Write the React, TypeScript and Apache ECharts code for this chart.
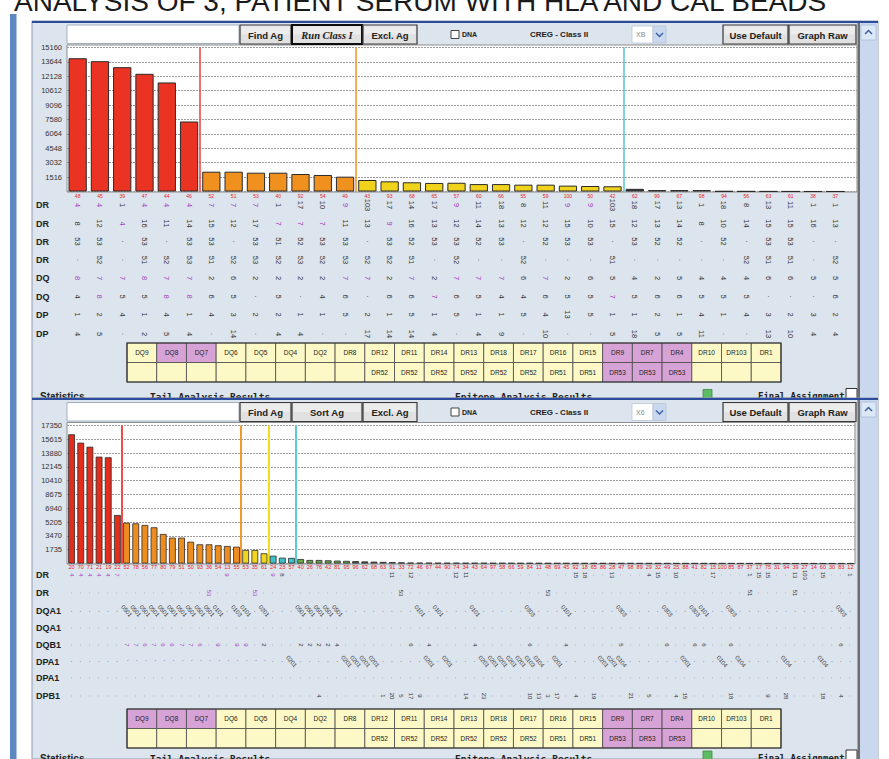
import React, { useEffect, useRef } from 'react';
import * as echarts from 'echarts';

// ---------------- data ----------------
const TITLE = 'ANALYSIS OF 3, PATIENT SERUM WITH HLA AND CAL BEADS';

const topBeads = ['48','45','39','47','44','46','52','51','53','40','92','54','49','43','93','68','65','57','60','66','55','59','100','50','42','62','99','67','98','94','56','63','61','38','37'];
const topValues = [14030,13720,13090,12390,11480,7370,2085,2085,1980,1980,1840,1740,1560,1210,1070,970,900,920,780,780,720,720,620,580,550,280,150,150,150,30,20,15,10,5,5];
const topCuts = [6, 13, 25];
const topYMax = 15160;
const topYStep = 1516;
const topRowNames = ['DR','DR','DR','DR','DQ','DQ','DP','DP'];
const topDR1 = ['4*','4*','1','4*','4*','4*','7*','7*','7*','1','17','10','9*','103','17','14','17','9*','11','18','8','11','9*','9*','103','18','17','13','1','18','8','13','11','1','1'];
const topDR2 = ['8','12','4*','16','11','14','15','12','17','7*','7*','7*','11','13','9*','16','13','12','14','13','12','12','15','10','15','12','13','14','8','10','14','15','15','16','13'];
const topDR3 = ['53','53','·','53','·','53','53','·','53','51','52','53','53','·','53','52','53','53','52','53','·','52','53','53','·','53','52','52','·','52','·','53','53','·','·'];
const topDR4 = ['·','52','·','51','52','53','51','52','53','52','53','52','53','52','52','51','·','52','·','·','52','·','·','·','51','·','·','·','·','·','52','51','51','·','52'];
const topDQ1 = ['8*','7*','7*','8*','7*','7*','2','6','2','2','2','2','7*','7*','2','7*','2','7*','7*','7*','6','7*','2','6','5','4','2','5','4','4','4','6','6','5','5'];
const topDQ2 = ['4','8*','5','5','8*','8*','6','5','·','5','·','4','6','·','6','6','7*','6','5','4','4','6','5','5','7*','5','6','6','5','5','5','·','·','·','6'];
const topDP1 = ['1','2','4','1','4','1','4','3','2','2','1','1','5','2','1','5','1','5','1','1','5','4','13','5','1','1','2','1','4','1','4','3','2','3','2'];
const topDP2 = ['4','5','·','2','5','4','·','14','·','4','4','·','·','17','14','14','4','·','4','9','·','10','·','·','5','18','5','5','11','·','·','13','10','4','4'];

const bottomBeads = ['20','70','71','21','19','22','52','78','56','77','80','79','51','50','93','36','54','13','55','53','35','61','24','23','57','40','26','76','42','81','95','96','62','68','63','91','33','72','46','67','44','90',
  '74','34','43','64','97','58','66','59','84','11','48','69','45','92','18','65','86','28','47','98','89','29','32','49','25','88','41','82','15','100','85','87','37','17','75','31','94','39','27','14','60','30','83','12'];
const bottomValues = [16240,15190,14680,13430,13350,6100,
  5130,5050,4840,4550,3710,3250,3250,2740,2410,2410,2290,2200,2110,
  1700,1700,1280,
  980,730,700,
  560,440,440,400,360,330,
  300,260,230,200,170,140,
  110,100,95,90,85,80,78,75,72,70,68,65,62,60,58,55,52,50,48,46,44,42,40,38,36,34,32,30,28,27,26,25,24,23,22,21,20,19,18,17,16,15,14,13,12,11,10,9,8];
const bottomCuts = [6, 19, 22, 25];
const bottomYMax = 17350;
const bottomYStep = 1735;
const bottomRowNames = ['DR','DR','DQA1','DQA1','DQB1','DPA1','DPA1','DPB1'];
const bDR1: Record<number, string> = {0:'4*',1:'4*',2:'4*',3:'4*',4:'4*',5:'7*',17:'9*',22:'9*',23:'8',35:'11',37:'12',42:'12',43:'11',55:'15',56:'18',59:'13',63:'4',64:'15',66:'10',70:'17',74:'1',75:'15',76:'15',79:'13',80:'103',82:'15',85:'1'};
const bDR2: Record<number, string> = {15:'53*',20:'53*',36:'53',52:'53',74:'51',79:'51'};
const bDQA1a: Record<number, string> = {6:'0501',7:'0501',8:'0501',9:'0501',10:'0501',11:'0501',12:'0501',13:'0501',14:'0501',15:'0501',16:'0101',18:'0103',19:'0101',21:'0201',25:'0501',26:'0501',27:'0501',28:'0501',29:'0501',38:'0101',40:'0101',44:'0101',50:'0303',54:'0101',60:'0303',65:'0303',68:'0303',69:'0101',72:'0303',84:'0303'};
const bDQA1b: Record<number, string> = {};
const bDQB1: Record<number, string> = {6:'7*',7:'7*',8:'6*',9:'7*',10:'6*',11:'6*',12:'7*',13:'7*',14:'6*',16:'9*',18:'9*',19:'9*',21:'2',25:'2',26:'2',27:'2',28:'2',29:'4',37:'6',39:'4',44:'4',50:'6',54:'4',60:'5',65:'6',68:'6',69:'6',72:'6',84:'6'};
const bDPA1a: Record<number, string> = {6:"'*",7:"'*",8:"'*",9:"'*",10:"'*",11:"'*",12:"'*",13:"'*",14:"'*",15:"'*",16:"'*",17:"'*",18:"'*",19:"'*",20:"'*",21:"'*",
  24:'0201',30:'0201',31:'0201',32:'0201',33:'0201',39:'0201',41:'0201',45:'0201',46:'0201',47:'0201',48:'0201',49:'0201',50:'0103',51:'0104',53:'0201',58:'0201',59:'0201',60:'0104',67:'0201',71:'0104',73:'0104',78:'0104',82:'0104'};
const bDPA1b: Record<number, string> = {};
const bDPB1: Record<number, string> = {27:'4',34:'1',35:'20',36:'5',37:'17',38:'9',43:'14',45:'23',50:'10',51:'13',52:'3',53:'17',55:'4',57:'19',61:'21',63:'5',66:'4',67:'15',72:'18',76:'9',78:'28',82:'18',84:'4'};

const tableAntigens = ['DQ9','DQ8','DQ7','DQ6','DQ5','DQ4','DQ2','DR8','DR12','DR11','DR14','DR13','DR18','DR17','DR16','DR15','DR9','DR7','DR4','DR10','DR103','DR1'];
const tableAssoc = ['','','','','','','','','DR52','DR52','DR52','DR52','DR52','DR52','DR51','DR51','DR53','DR53','DR53','','',''];
const topMarked = ['DQ8','DQ7','DR9','DR7','DR4'];
const bottomMarked = ['DQ9','DQ8','DQ7','DR9','DR7','DR4'];

// ---------------- layout ----------------
const FONT = "'Liberation Sans', Arial, sans-serif";
const MONO = "'DejaVu Sans Mono', 'Liberation Mono', monospace";
const SERIF = "'Liberation Serif', 'Times New Roman', serif";
const PURPLE = '#a43fc2';

const TOP = { panelY: 21, panelH: 377, tbY: 25, plotL: 67, plotR: 857, plotTop: 45, gridTop: 47.5, zeroY: 191.5, barL: 66.5, barW: 780, labelY: 195.5,
  rowY: [205, 223.5, 241.5, 260, 278, 296.5, 314.5, 334], tableY: 343, statsY: 391.5 };
const BOT = { panelY: 398, panelH: 361, tbY: 402.5, plotL: 67, plotR: 855, plotTop: 422.5, gridTop: 425.5, zeroY: 563.5, barL: 67, barW: 788, labelY: 566.5,
  rowY: [575, 593, 611, 628, 645, 661.5, 678, 696], tableY: 709, statsY: 753 };

const expand = (m: Record<number, string>, n: number) => Array.from({ length: n }, (_, i) => (m[i] !== undefined ? m[i] : '·'));

const rect = (x: number, y: number, w: number, h: number, fill: string, stroke?: string, lw = 1): any => {
  const style: any = { fill };
  if (stroke) { style.stroke = stroke; style.lineWidth = lw; }
  return { type: 'rect', z: 0, silent: true, shape: { x, y, width: w, height: h }, style };
};
const text = (x: number, y: number, t: string, o: any = {}): any => ({
  type: 'text', z: 0, silent: true, x, y,
  style: {
    text: t, fill: o.fill ?? '#222', fontSize: o.size ?? 8, fontFamily: o.family ?? FONT,
    fontWeight: o.weight ?? 'normal', fontStyle: o.italic ? 'italic' : 'normal',
    align: o.align ?? 'left', textAlign: o.align ?? 'left',
    verticalAlign: o.va ?? 'middle', textVerticalAlign: o.va ?? 'middle',
  },
});
const chevron = (cx: number, cy: number, up: boolean, color: string): any => ({
  type: 'polyline', z: 0, silent: true,
  shape: { points: up ? [[cx - 3.5, cy + 2], [cx, cy - 1.5], [cx + 3.5, cy + 2]] : [[cx - 3.5, cy - 1.5], [cx, cy + 2], [cx + 3.5, cy - 1.5]] },
  style: { stroke: color, lineWidth: 1.5, fill: null },
});
const button = (x: number, y: number, w: number, h: number, label: string, o: any = {}): any[] => [
  rect(x, y, w, h, '#e1e1e1', o.strong ? '#0d0d0d' : '#3a3a3a', o.strong ? 2 : 1.2),
  rect(x + 1.5, y + 1.5, w - 3, (h - 3) / 2, '#ececec'),
  text(x + w / 2, y + h / 2 + 0.5, label, { align: 'center', weight: 'bold', size: o.size ?? 9.5, family: o.family ?? FONT, italic: o.italic }),
];

function panel(L: any, rowNames: string[], second: string, secondItalic: boolean, drop: string, marked: string[]): any[] {
  const g: any[] = [];
  g.push(rect(32, L.panelY, 846, L.panelH, '#dce4ee', '#8f9cad', 1));
  g.push(rect(32, L.panelY, 846, 2, '#2d4c9e'));
  // scrollbar
  g.push(rect(860, L.panelY + 2, 18, L.panelH - 2, '#c9d8ee'));
  g.push(rect(857.5, L.panelY + 2, 2.5, L.panelH - 2, '#6e6e6e'));
  g.push(rect(861, L.panelY + 4, 15, 15, '#dde8f7', '#a8bcd8', 0.8));
  g.push(chevron(868.5, L.panelY + 11, true, '#3d63a6'));
  // plot area
  g.push(rect(L.plotL, L.plotTop, L.plotR - L.plotL, L.zeroY + 0.5 - L.plotTop, '#ffffff', '#8d8d8d', 1));
  // toolbar
  const y = L.tbY, h = 19;
  g.push(rect(67, y, 172, h - 0.5, '#ffffff', '#a4afbd', 1));
  g.push(...button(240, y, 51, h, 'Find Ag'));
  g.push(...button(292, y, 70, h, second, secondItalic ? { strong: true, italic: true, family: SERIF, size: 10.5 } : {}));
  g.push(...button(363, y, 54, h, 'Excl. Ag'));
  g.push(rect(451, y + 5.5, 8, 8, '#ffffff', '#444', 1));
  g.push(text(462, y + 9.5, 'DNA', { size: 7, weight: 'bold' }));
  g.push(text(559, y + 9.5, 'CREG - Class II', { size: 8, weight: 'bold', align: 'center' }));
  g.push(rect(632, y + 1, 21, 17, '#ffffff', '#b9c5d6', 0.8));
  g.push(text(636, y + 9.5, drop, { size: 7, fill: '#8a8a8a' }));
  g.push(rect(653, y + 1, 13, 17, '#c9d7ef', '#b9c5d6', 0.8));
  g.push(chevron(659.5, y + 9.5, false, '#3d63a6'));
  g.push(...button(723, y, 65, h, 'Use Default'));
  g.push(...button(789, y, 67, h, 'Graph Raw'));
  // row names
  rowNames.forEach((n, i) => g.push(text(36, L.rowY[i], n, { size: 9, weight: 'bold', fill: '#222' })));
  // antigen table
  const x0 = 127, cw = (781 - 127) / tableAntigens.length, rh = 19.5;
  tableAntigens.forEach((a, i) => {
    const m = marked.indexOf(a) >= 0;
    const x = x0 + i * cw;
    g.push(rect(x, L.tableY, cw, rh, m ? '#d7a2d6' : '#fcf9c6', '#4a4a4a', 0.8));
    g.push(text(x + cw / 2, L.tableY + rh / 2, a, { size: 6.5, align: 'center', fill: '#222' }));
    const s = tableAssoc[i];
    g.push(rect(x, L.tableY + rh, cw, rh, m && s ? '#d7a2d6' : '#fcf9c6', '#4a4a4a', 0.8));
    if (s) g.push(text(x + cw / 2, L.tableY + rh * 1.5, s, { size: 6.5, align: 'center', fill: '#222' }));
  });
  g.push({ type: 'rect', z: 0, silent: true, shape: { x: x0, y: L.tableY, width: 781 - x0, height: rh * 2 }, style: { fill: null, stroke: '#333', lineWidth: 1.2 } });
  // statistics line (partly hidden below)
  const sy = L.statsY;
  g.push(text(40, sy, 'Statistics', { size: 10, weight: 'bold', va: 'top' }));
  g.push(text(150, sy, 'Tail Analysis Results', { size: 9.5, weight: 'bold', va: 'top', family: MONO }));
  g.push(text(455, sy, 'Epitope Analysis Results', { size: 9.5, weight: 'bold', va: 'top', family: MONO }));
  g.push(rect(703, sy - 2, 9, 9, '#5dbb63', '#3c8a44', 0.8));
  g.push(text(758, sy, 'Final Assignment', { size: 9, weight: 'bold', va: 'top', family: MONO }));
  g.push(rect(846, sy - 3, 11, 11, '#ffffff', '#333', 1));
  return g;
}

function catAxis(gridIndex: number, data: string[], offset: number, fontSize: number): any {
  return {
    type: 'category', gridIndex, position: 'bottom', offset, data, z: 3,
    axisLine: { show: false }, axisTick: { show: false }, splitLine: { show: false },
    axisLabel: { interval: 0, margin: 0, align: 'center', verticalAlign: 'middle', fontSize, color: '#e8231c', fontFamily: FONT },
  };
}
function rowAxis(gridIndex: number, data: string[], offset: number, rotate: number, fontSize: number): any {
  return {
    type: 'category', gridIndex, position: 'bottom', offset, data, z: 3,
    axisLine: { show: false }, axisTick: { show: false }, splitLine: { show: false },
    axisLabel: {
      interval: 0, rotate, margin: 0, align: 'center', verticalAlign: 'middle',
      fontSize, color: '#333', fontFamily: FONT,
      formatter: (v: string) => (v.endsWith('*') ? `{p|${v.slice(0, -1)}}` : v),
      rich: { p: { color: PURPLE, fontSize, fontFamily: FONT } },
    },
  };
}
const yAxisVisible = (gridIndex: number, max: number, step: number): any => ({
  type: 'value', gridIndex, min: 0, max, interval: step, z: 3,
  axisLine: { show: false }, axisTick: { show: false },
  axisLabel: { margin: 5, fontSize: 7.5, color: '#333', fontFamily: FONT, padding: [5, 0, 0, 0], formatter: (v: number) => (v === 0 ? '' : String(v)) },
  splitLine: { show: true, lineStyle: { color: '#9c9c9c', type: [2, 1], width: 1 } },
});

const topColor = (i: number) => (i < topCuts[0] ? '#ea3322' : i < topCuts[1] ? '#f0901f' : i < topCuts[2] ? '#f2d31c' : i === topCuts[2] ? '#3a3a3a' : '#8a8a8a');
const bottomColor = (i: number) => (i < bottomCuts[0] ? '#e22c1c' : i < bottomCuts[1] ? '#ee8d1f' : i < bottomCuts[2] ? '#f0d51e' : i < bottomCuts[3] ? '#3ec2c9' : i < 31 ? '#6aa84a' : i < 37 ? '#555555' : '#9a9a9a');

export default function App() {
  const ref = useRef<HTMLDivElement>(null);
  useEffect(() => {
    if (!ref.current) return;
    const chart = echarts.init(ref.current, null, { renderer: 'svg', width: 889, height: 759 });

    const topRows = [topDR1, topDR2, topDR3, topDR4, topDQ1, topDQ2, topDP1, topDP2];
    const bottomRows = [bDR1, bDR2, bDQA1a, bDQA1b, bDQB1, bDPA1a, bDPA1b, bDPB1].map((m) => expand(m, bottomBeads.length));
    const bottomRot = [-90, -90, -50, -90, -90, -50, -90, -90];

    const xAxes: any[] = [];
    xAxes.push({ type: 'value', gridIndex: 0, show: false, min: 0, max: 1 }); // 0
    xAxes.push(catAxis(1, topBeads, TOP.labelY - TOP.zeroY, 5)); // 1
    topRows.forEach((r, i) => xAxes.push(rowAxis(1, r, TOP.rowY[i] - TOP.zeroY, -90, 7.5))); // 2..9
    xAxes.push({ type: 'value', gridIndex: 1, show: false, min: 0, max: topBeads.length }); // 10
    xAxes.push(catAxis(2, bottomBeads, BOT.labelY - BOT.zeroY, 5.5)); // 11
    bottomRows.forEach((r, i) => xAxes.push(rowAxis(2, r, BOT.rowY[i] - BOT.zeroY, bottomRot[i], 6))); // 12..19
    xAxes.push({ type: 'value', gridIndex: 2, show: false, min: 0, max: bottomBeads.length }); // 20

    const cutLine = (xAxisIndex: number, yAxisIndex: number, cuts: number[], colors: string[], width: number) => ({
      type: 'scatter', xAxisIndex, yAxisIndex, data: [[0, 0]], symbolSize: 0, silent: true, z: 6,
      markLine: {
        silent: true, symbol: ['none', 'none'], label: { show: false }, animation: false,
        data: cuts.map((c, i) => ({ xAxis: c, lineStyle: { color: colors[i], width, type: 'solid' } })),
      },
    });

    const graphics: any[] = [];
    graphics.push(rect(10, 14, 6.5, 745, '#5e88c2'));
    graphics.push(text(14, 1, TITLE, { size: 28, fill: '#1a1a1a' }));
    graphics.push(...panel(TOP, topRowNames, 'Run Class I', true, 'XB', topMarked));
    graphics.push(...panel(BOT, bottomRowNames, 'Sort Ag', false, 'X6', bottomMarked));

    chart.setOption({
      animation: false,
      backgroundColor: '#ffffff',
      grid: [
        { left: TOP.plotL, top: TOP.gridTop, width: TOP.plotR - TOP.plotL, height: TOP.zeroY - TOP.gridTop, outerBoundsMode: 'none' },
        { left: TOP.barL, top: TOP.gridTop, width: TOP.barW, height: TOP.zeroY - TOP.gridTop, outerBoundsMode: 'none' },
        { left: BOT.barL, top: BOT.gridTop, width: BOT.barW, height: BOT.zeroY - BOT.gridTop, outerBoundsMode: 'none' },
      ],
      xAxis: xAxes,
      yAxis: [
        yAxisVisible(0, topYMax, topYStep),
        { type: 'value', gridIndex: 1, min: 0, max: topYMax, show: false },
        yAxisVisible(2, bottomYMax, bottomYStep),
      ],
      graphic: { elements: graphics },
      series: [
        { type: 'scatter', xAxisIndex: 0, yAxisIndex: 0, data: [], silent: true },
        {
          type: 'bar', xAxisIndex: 1, yAxisIndex: 1, barCategoryGap: '18%', z: 5, silent: true,
          itemStyle: { borderColor: '#2a2a2a', borderWidth: 1 },
          data: topValues.map((v, i) => ({ value: v, itemStyle: { color: topColor(i) } })),
        },
        cutLine(10, 1, topCuts, ['#f04a4a', '#f39a2c', '#5fcad2'], 1.6),
        {
          type: 'bar', xAxisIndex: 11, yAxisIndex: 2, barCategoryGap: '26%', z: 5, silent: true,
          itemStyle: { borderColor: '#2a2a2a', borderWidth: 0.8 },
          data: bottomValues.map((v, i) => ({ value: v, itemStyle: { color: bottomColor(i) } })),
        },
        cutLine(20, 2, bottomCuts, ['#f04a4a', '#f39a2c', '#f1dc25', '#5fcad2'], 2),
      ],
    });
    return () => chart.dispose();
  }, []);
  return <div ref={ref} style={{ position: 'absolute', left: 0, top: 0, width: 889, height: 759 }} />;
}
